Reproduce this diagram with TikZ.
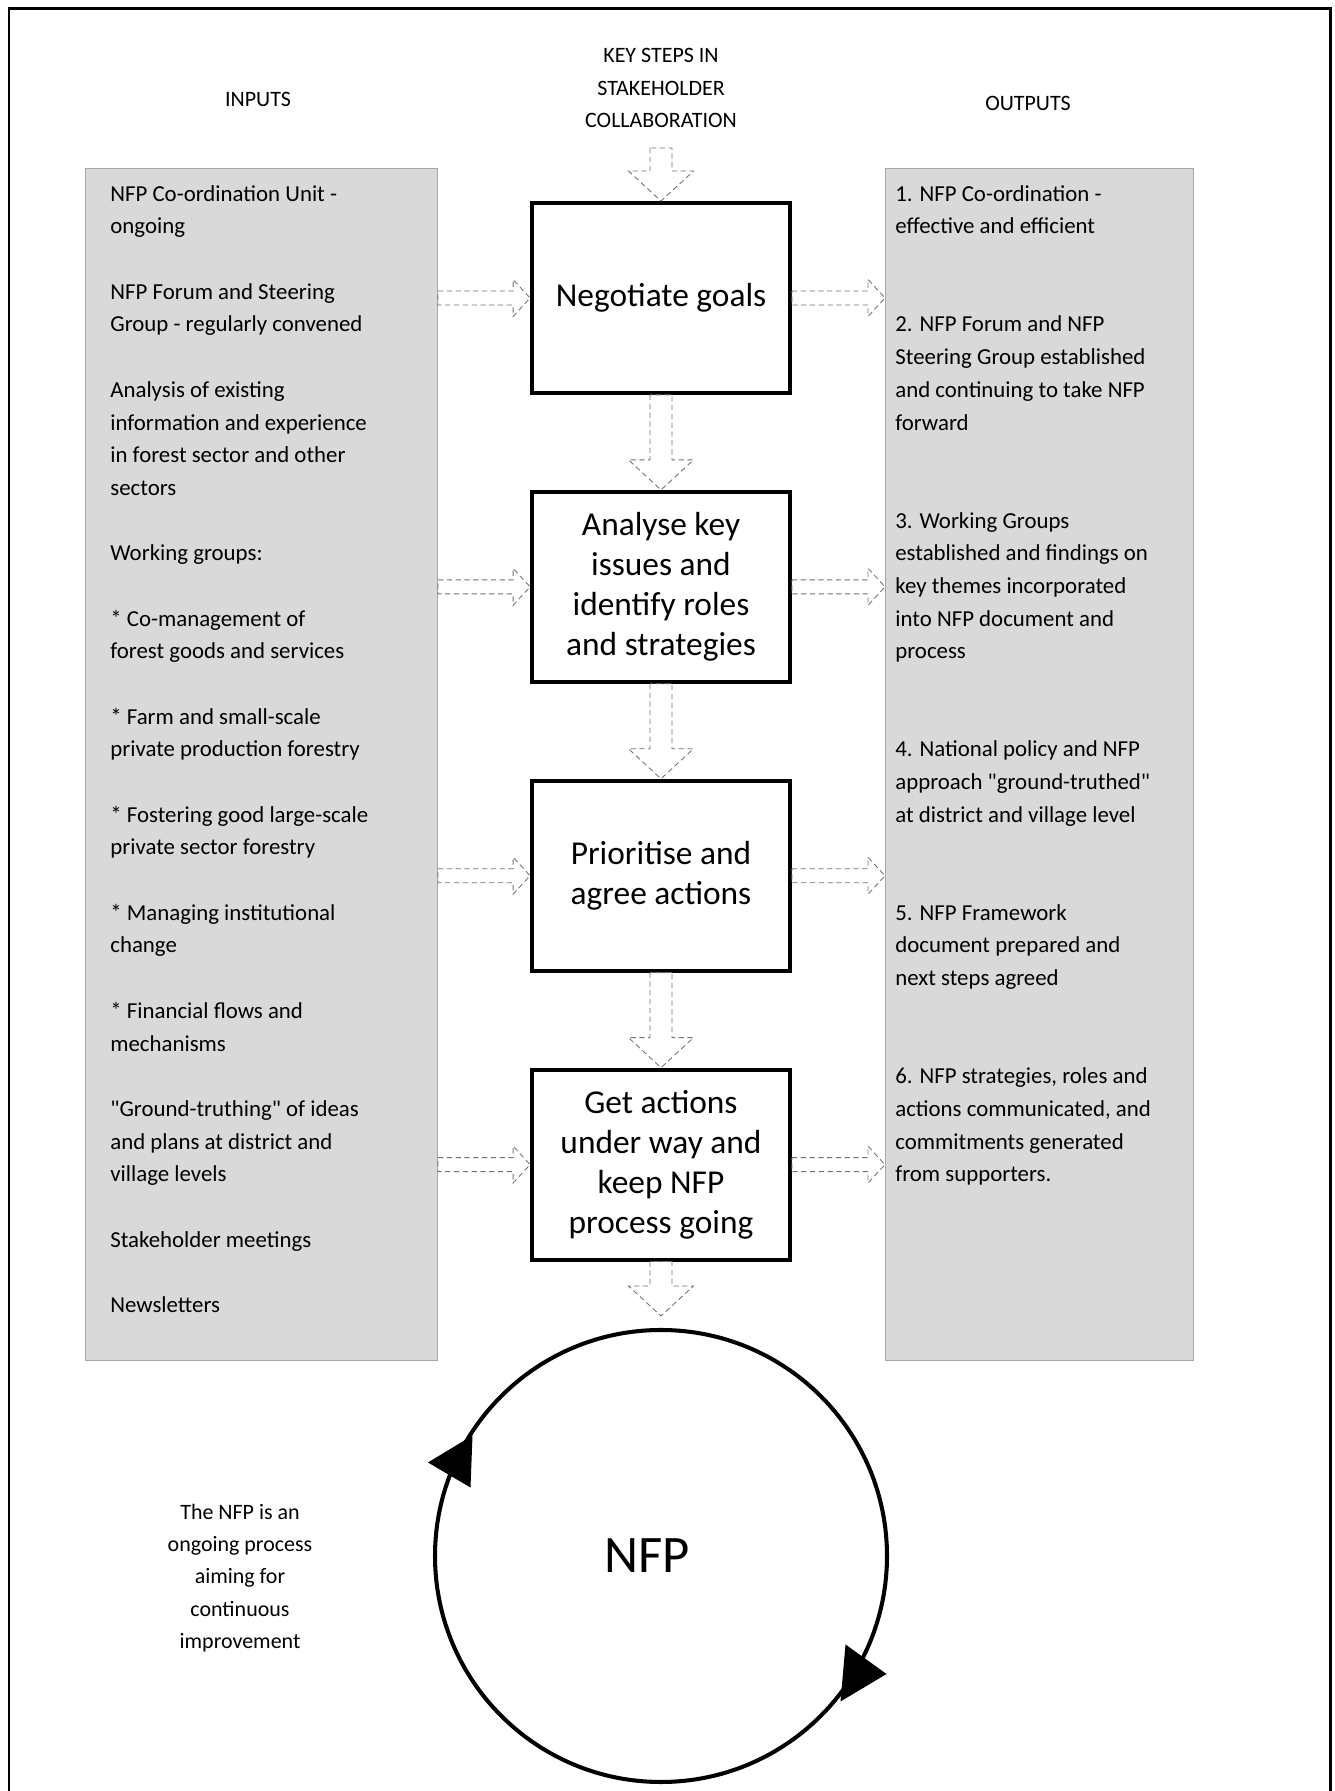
\documentclass[tikz,border=0pt]{standalone}
\usepackage{fontspec}
\setmainfont{Carlito}
\usetikzlibrary{positioning,calc}

\tikzset{
  sidebox/.style={fill=black!15, draw=black!35, line width=0.6pt, inner sep=0pt},
  stepbox/.style={draw, line width=2.2pt, fill=white, minimum width=5.16cm, minimum height=3.8cm,
    align=center, font=\fontsize{19}{22.7}\selectfont},
  sidetext/.style={anchor=north west, inner sep=0pt, align=left, font=\fontsize{13}{18.6}\selectfont},
  headtext/.style={align=center, inner sep=0pt, font=\fontsize{12.5}{18.5}\selectfont},
  fatarrow/.style={draw=black!55, fill=white, line width=0.5pt, densely dashed},
}

% block arrows: start, tip
\newcommand{\rightfat}[2]{%
  \draw[fatarrow] ($(#1)+(0,0.14)$) -- ($(#2)+(-0.34,0.14)$) -- ($(#2)+(-0.34,0.37)$) -- (#2)
    -- ($(#2)+(-0.34,-0.37)$) -- ($(#2)+(-0.34,-0.14)$) -- ($(#1)+(0,-0.14)$) -- cycle;}
\newcommand{\downfat}[2]{%
  \draw[fatarrow] ($(#1)+(-0.22,0)$) -- ($(#2)+(-0.22,0.6)$) -- ($(#2)+(-0.65,0.6)$) -- (#2)
    -- ($(#2)+(0.65,0.6)$) -- ($(#2)+(0.22,0.6)$) -- ($(#1)+(0.22,0)$) -- cycle;}

\begin{document}
\begin{tikzpicture}
	\useasboundingbox (0,0) rectangle (26.7,35.82);
	% frame
	\draw [line width=1.7pt] (0.18,0) -- (0.18,35.64) -- (26.6,35.64) -- (26.6,0);

	% headings
	\node [headtext] (inhead) at (5.16,33.84) {INPUTS};
	\node [headtext] (keyhead) at (13.22,34.06) {KEY STEPS IN\\STAKEHOLDER\\COLLABORATION};
	\node [headtext] (outhead) at (20.56,33.76) {OUTPUTS};

	% grey columns
	\node [sidebox, anchor=north west, minimum width=7.04cm, minimum height=23.84cm] (inbox) at (1.70,32.46) {};
	\node [sidebox, anchor=north west, minimum width=6.16cm, minimum height=23.84cm] (outbox) at (17.70,32.46) {};

	% inputs
	\node [sidetext] (intext) at (2.20,32.12) {NFP Co-ordination Unit -\\ongoing\\[18.6pt]
		NFP Forum and Steering\\Group - regularly convened\\[18.6pt]
		Analysis of existing\\information and experience\\in forest sector and other\\sectors\\[18.6pt]
		Working groups:\\[18.6pt]
		* Co-management of\\forest goods and services\\[18.6pt]
		* Farm and small-scale\\private production forestry\\[18.6pt]
		* Fostering good large-scale\\private sector forestry\\[18.6pt]
		* Managing institutional\\change\\[18.6pt]
		* Financial flows and\\mechanisms\\[18.6pt]
		\textquotedbl Ground-truthing\textquotedbl{} of ideas\\and plans at district and\\village levels\\[18.6pt]
		Stakeholder meetings\\[18.6pt]
		Newsletters};

	% outputs
	\node [sidetext] (outtext) at (17.90,32.12) {1. NFP Co-ordination -\\effective and efficient\\[37.2pt]
		2. NFP Forum and NFP\\Steering Group established\\and continuing to take NFP\\forward\\[37.2pt]
		3. Working Groups\\established and findings on\\key themes incorporated\\into NFP document and\\process\\[37.2pt]
		4. National policy and NFP\\approach \textquotedbl ground-truthed\textquotedbl\\at district and village level\\[37.2pt]
		5. NFP Framework\\document prepared and\\next steps agreed\\[37.2pt]
		6. NFP strategies, roles and\\actions communicated, and\\commitments generated\\from supporters.};

	% key steps
	\node [stepbox] (neg) at (13.22,29.86) {Negotiate goals};
	\node [stepbox, below=1.9cm of neg] (ana) {Analyse key\\issues and\\identify roles\\and strategies};
	\node [stepbox, below=1.9cm of ana] (pri) {Prioritise and\\agree actions};
	\node [stepbox, below=1.9cm of pri] (act) {Get actions\\under way and\\keep NFP\\process going};

	% cycle
	\node [circle, draw, line width=2.3pt, minimum size=9.04cm,
		label={[xshift=-0.28cm, font=\fontsize{30}{36}\selectfont]center:NFP}] (nfp) at (13.22,4.70) {};
	\begin{scope}[shift={(nfp.center)}]
		\fill (-4.66,1.87) -- (-3.77,2.41) -- (-3.81,1.37) -- cycle;
		\fill (4.51,-2.36) -- (3.69,-1.77) -- (3.59,-2.91) -- cycle;
	\end{scope}
	\node [align=center, font=\fontsize{12.5}{18.4}\selectfont] (note) at (4.8,4.26) {The NFP is an\\ongoing process\\aiming for\\continuous\\improvement};

	% arrows down the middle
	\coordinate (topin) at (13.22,32.86);
	\coordinate (loopin) at (13.22,9.50);
	\downfat{topin}{neg.north}
	\downfat{neg.south}{ana.north}
	\downfat{ana.south}{pri.north}
	\downfat{pri.south}{act.north}
	\downfat{act.south}{loopin}

	% arrows in and out
	\foreach \s in {neg,ana,pri,act}{
		\rightfat{inbox.east |- \s.west}{\s.west}
		\rightfat{\s.east}{outbox.west |- \s.east}
	}
\end{tikzpicture}
\end{document}
